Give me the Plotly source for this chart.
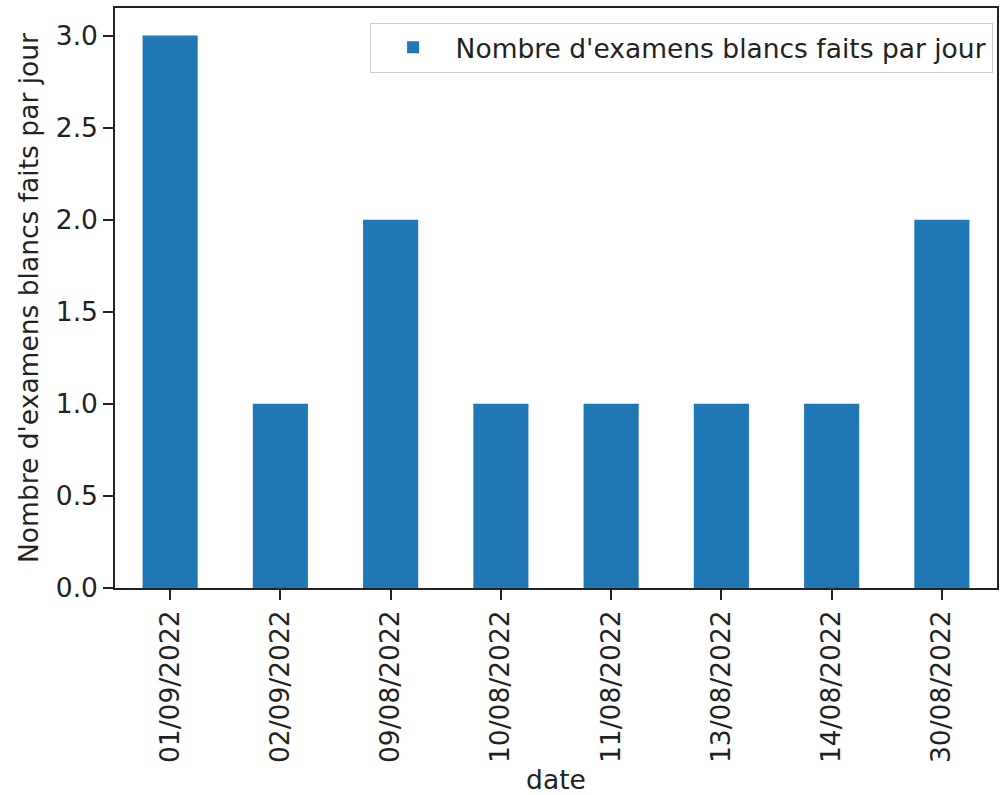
import plotly.graph_objects as go

dates = ["01/09/2022", "02/09/2022", "09/08/2022", "10/08/2022",
         "11/08/2022", "13/08/2022", "14/08/2022", "30/08/2022"]
counts = [3, 1, 2, 1, 1, 1, 1, 2]
y_ticks = [0.0, 0.5, 1.0, 1.5, 2.0, 2.5, 3.0]
y_tick_labels = ["0.0", "0.5", "1.0", "1.5", "2.0", "2.5", "3.0"]

font = "DejaVu Sans"
text_col = "#222222"
fsize = 26.5

fig = go.Figure()

fig.add_trace(
    go.Bar(
        x=dates,
        y=counts,
        name="Nombre d'examens blancs faits par jour",
        marker=dict(color="#1f77b4", line=dict(width=0)),
        width=0.5,
        showlegend=True
    )
)

axis_common = dict(
    showline=True,
    linecolor="#222",
    linewidth=1.5,
    mirror=True,
    ticks="outside",
    ticklen=10,
    tickwidth=1.5,
    tickcolor="#222",
    showgrid=False,
    zeroline=False,
    automargin=False,
    tickfont=dict(family=font, size=fsize, color=text_col),
)

fig.update_layout(
    width=1000,
    height=795,
    margin=dict(l=115, r=3, t=8, b=207),
    plot_bgcolor="white",
    paper_bgcolor="white",
    font=dict(family=font, color=text_col),
    legend=dict(
        x=0.995, y=0.975, xanchor="right", yanchor="top",
        bordercolor="#cccccc", borderwidth=1,
        itemwidth=75,
        font=dict(family=font, size=fsize, color=text_col),
        bgcolor="rgba(255,255,255,0.8)",
    ),
    xaxis=dict(
        **axis_common,
        tickangle=-90,
        range=[-0.5, 7.5],
        title=dict(text="date", font=dict(family=font, size=fsize, color=text_col), standoff=10),
    ),
    yaxis=dict(
        **axis_common,
        range=[0, 3.15],
        tickvals=y_ticks,
        ticktext=y_tick_labels,
        title=dict(text="Nombre d'examens blancs faits par jour",
                   font=dict(family=font, size=fsize, color=text_col), standoff=10),
    ),
)

fig.write_html("out.html", config={"displayModeBar": False},
               post_script="document.body.style.margin='0';")
